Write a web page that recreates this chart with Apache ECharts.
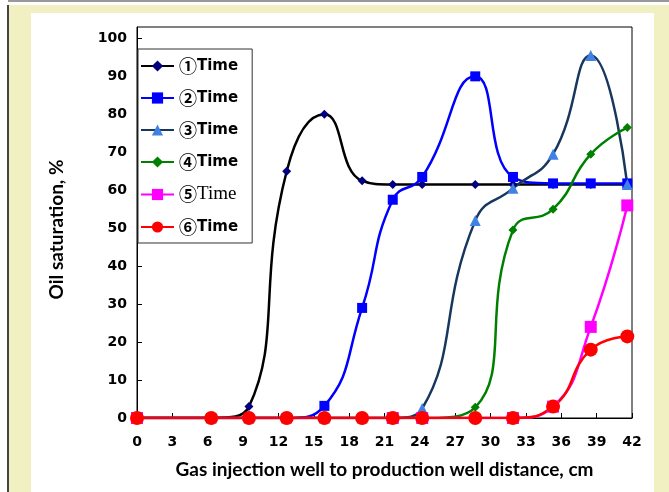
<!DOCTYPE html>
<html>
<head>
<meta charset="utf-8">
<script src="https://cdn.jsdelivr.net/npm/echarts@6/dist/echarts.min.js"></script>
<style>
  html, body { margin: 0; padding: 0; background: #fff; }
  #main { width: 669px; height: 492px; }
</style>
</head>
<body>
<div id="main"></div>
<script>
// distance, cm (measuring points)
const dist = [0, 6.3, 9.5, 12.7, 15.9, 19.1, 21.7, 24.2, 28.7, 31.9, 35.3, 38.5, 41.6]
const distT5 = [0, 21.7, 24.2, 31.9, 35.3, 38.5, 41.6]
const xTicks = [0, 3, 6, 9, 12, 15, 18, 21, 24, 27, 30, 33, 36, 39, 42]

// oil saturation, %
const t1 = [0, 0, 3, 65, 80, 62.5, 61.5, 61.5, 61.5, 61.5, 61.5, 61.5, 61.5]
const t2 = [0, 0, 0, 0, 3.2, 29, 57.5, 63.5, 90, 63.5, 61.8, 61.8, 61.8]
const t3 = [0, 0, 0, 0, 0, 0, 0, 2.5, 52, 60.5, 69.5, 95.5, 61.5]
const t4 = [0, 0, 0, 0, 0, 0, 0, 0, 2.8, 49.5, 55, 69.5, 76.5]
const t5 = [0, 0, 0, 0, 3, 24, 56]
const t6 = [0, 0, 0, 0, 0, 0, 0, 0, 0, 0, 3, 18, 21.5]

const names = ['①Time', '②Time', '③Time', '④Time', '⑤Time', '⑥Time']

function pairs(xs, ys) {
  return xs.map((x, i) => [x, ys[i]])
}

function line(name, xs, ys, lineColor, markColor, symbol, size) {
  return {
    name: name,
    type: 'line',
    smooth: 0.5,
    symbol: symbol,
    symbolSize: size,
    data: pairs(xs, ys),
    lineStyle: { color: lineColor, width: 2.5 },
    itemStyle: { color: markColor },
    emphasis: { disabled: true }
  }
}

let myChart = echarts.init(document.getElementById('main'))
let option = {
  animation: false,
  backgroundColor: '#fff',
  graphic: [
    { type: 'rect', silent: true, z: -10, shape: { x: 8, y: 0, width: 661, height: 2 }, style: { fill: '#999' } },
    { type: 'rect', silent: true, z: -10, shape: { x: 7, y: 5, width: 2, height: 487 }, style: { fill: '#444' } },
    { type: 'rect', silent: true, z: -10, shape: { x: 9, y: 5, width: 660, height: 487 }, style: { fill: '#f0f0c3' } },
    { type: 'rect', silent: true, z: -9, shape: { x: 31, y: 13, width: 623, height: 479 }, style: { fill: '#fff' } }
  ],
  grid: {
    left: 137,
    right: 37,
    top: 27,
    bottom: 74,
    show: true,
    borderColor: '#000',
    borderWidth: 1,
    backgroundColor: 'transparent'
  },
  legend: {
    orient: 'vertical',
    left: 138,
    top: 49,
    data: names,
    itemWidth: 33,
    itemHeight: 14,
    itemGap: 14,
    padding: [8, 14, 7, 2],
    backgroundColor: '#fff',
    borderColor: '#333',
    borderWidth: 1,
    formatter: function (n) {
      let num = n.charAt(0)
      if (n === '⑤Time') return '{n|' + num + '}{s|Time}'
      return '{n|' + num + '}{t|Time}'
    },
    textStyle: {
      lineHeight: 16,
      rich: {
        n: { fontFamily: 'Noto Sans CJK SC', fontSize: 18, fontWeight: 'bold', color: '#000', lineHeight: 16 },
        t: { fontFamily: 'DejaVu Sans', fontSize: 15, fontWeight: 'bold', color: '#000', lineHeight: 16 },
        s: { fontFamily: 'Liberation Serif', fontSize: 19, color: '#000', lineHeight: 16 }
      }
    }
  },
  xAxis: {
    type: 'value',
    min: 0,
    max: 42,
    interval: 3,
    name: 'Gas injection well to production well distance, cm',
    nameLocation: 'middle',
    nameGap: 42,
    nameTextStyle: { fontFamily: 'Lato', fontWeight: 'bold', fontSize: 19, color: '#000' },
    axisLine: { lineStyle: { color: '#000', width: 1 } },
    axisTick: { inside: true, length: 5, lineStyle: { color: '#000' } },
    axisLabel: {
      margin: 17,
      fontFamily: 'DejaVu Sans',
      fontWeight: 'bold',
      fontSize: 14,
      color: '#000',
      formatter: v => (xTicks.indexOf(v) >= 0 ? String(v) : '')
    },
    splitLine: { show: false }
  },
  yAxis: {
    type: 'value',
    min: 0,
    max: 103,
    interval: 10,
    name: 'Oil saturation, %',
    nameLocation: 'middle',
    nameGap: 71,
    nameTextStyle: { fontFamily: 'Lato', fontWeight: 'bold', fontSize: 19, color: '#000', padding: [0, 14, 0, 0] },
    axisLine: { show: true, lineStyle: { color: '#000', width: 1 } },
    axisTick: { show: true, inside: true, length: 5, lineStyle: { color: '#000' } },
    axisLabel: {
      margin: 10,
      showMaxLabel: false,
      fontFamily: 'DejaVu Sans',
      fontWeight: 'bold',
      fontSize: 14,
      color: '#000'
    },
    splitLine: { show: false }
  },
  series: [
    line(names[0], dist, t1, '#000', '#000080', 'diamond', 9),
    line(names[1], dist, t2, '#0000ff', '#0000ff', 'rect', 10),
    line(names[2], dist, t3, '#17375e', '#3f82e4', 'triangle', 11),
    line(names[3], dist, t4, '#008000', '#008000', 'diamond', 9),
    line(names[4], distT5, t5, '#ff00ff', '#ff00ff', 'rect', 12),
    line(names[5], dist, t6, '#ff0000', '#ff0000', 'circle', 14)
  ]
}
myChart.setOption(option)
</script>
</body>
</html>
